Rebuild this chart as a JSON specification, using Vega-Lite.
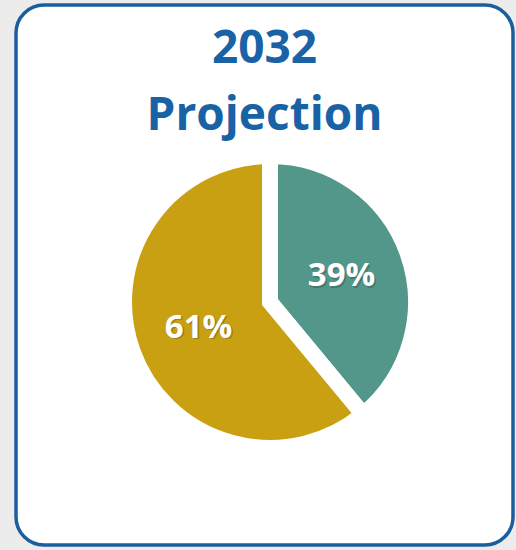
{
  "$schema": "https://vega.github.io/schema/vega-lite/v6.json",
  "autosize": "none",
  "width": 497,
  "height": 540,
  "padding": {"left": 16, "right": 3, "top": 5, "bottom": 5},
  "background": "#ececec",
  "view": {"fill": "white", "stroke": "#1b5e9e", "strokeWidth": 3.5, "cornerRadius": 28},
  "title": {
    "text": ["2032", "Projection"],
    "anchor": "middle",
    "frame": "group",
    "font": "Open Sans",
    "fontWeight": "bold",
    "fontSize": 46,
    "lineHeight": 67,
    "color": "#1a62a6",
    "baseline": "alphabetic",
    "offset": -171
  },
  "data": {
    "values": [
      {"category": "Group A", "share": 39, "label": "39%"},
      {"category": "Group B", "share": 61, "label": "61%"}
    ]
  },
  "encoding": {
    "theta": {"field": "share", "type": "quantitative", "stack": true},
    "color": {
      "field": "category",
      "type": "nominal",
      "legend": null,
      "scale": {"domain": ["Group A", "Group B"], "range": ["#52978a", "#c8a012"]}
    }
  },
  "layer": [
    {
      "mark": {"type": "arc", "outerRadius": 146, "stroke": "white", "strokeWidth": 16, "xOffset": 5.5, "yOffset": 27}
    },
    {
      "mark": {"type": "text", "radius": 76, "font": "Open Sans", "fontWeight": "bold", "fontSize": 33, "xOffset": 7, "yOffset": 28.5, "opacity": 0.25},
      "encoding": {"text": {"field": "label"}, "color": {"value": "#222222"}, "detail": {"field": "category"}}
    },
    {
      "mark": {"type": "text", "radius": 76, "font": "Open Sans", "fontWeight": "bold", "fontSize": 33, "xOffset": 5.5, "yOffset": 27},
      "encoding": {"text": {"field": "label"}, "color": {"value": "white"}, "detail": {"field": "category"}}
    }
  ]
}
